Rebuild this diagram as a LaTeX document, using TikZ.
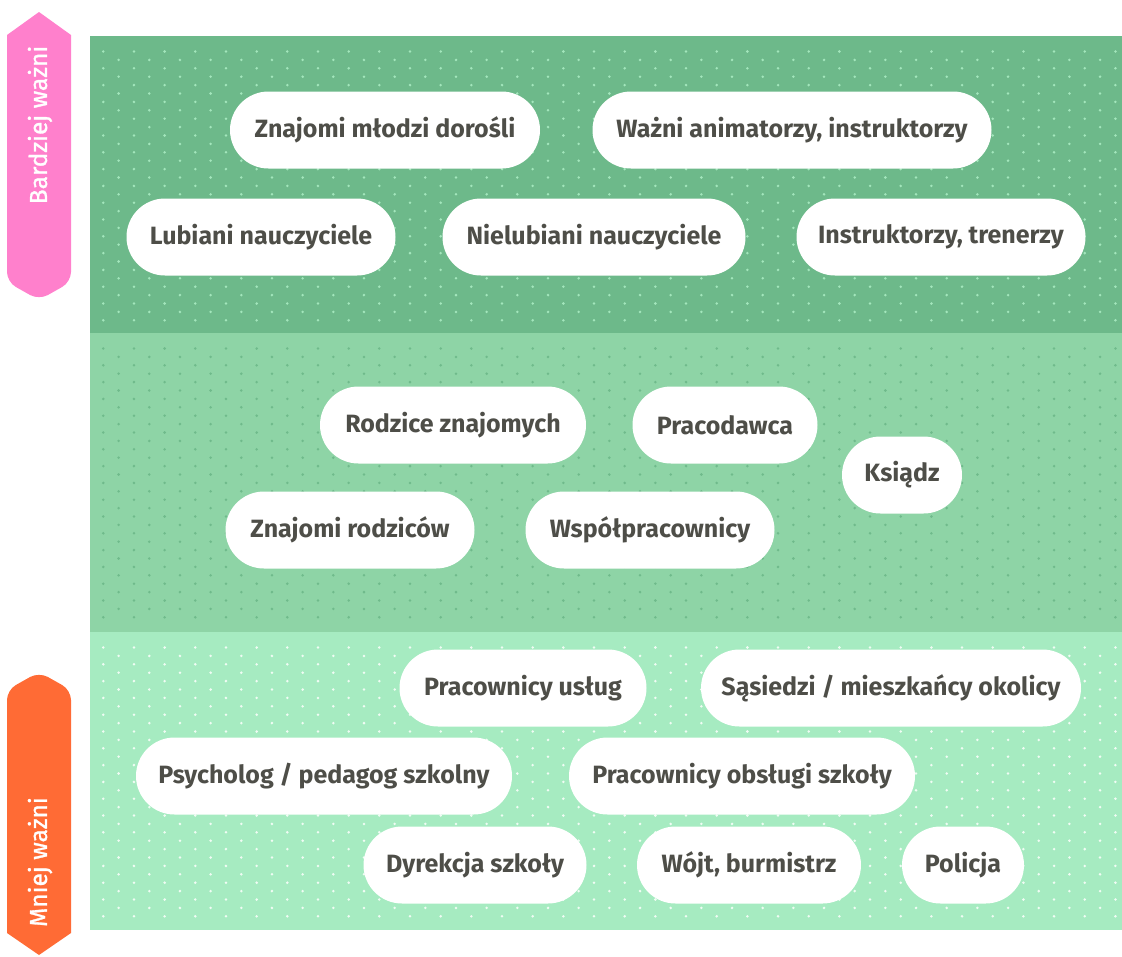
\documentclass[tikz,border=0pt]{standalone}
\usepackage{fontspec}
\setmainfont{Fira Sans}
\newfontfamily\sidefont[FakeBold=1.2]{Fira Sans}
\definecolor{topband}{HTML}{6DB98A}
\definecolor{topdot}{HTML}{A3E6BC}
\definecolor{midband}{HTML}{8ED4A6}
\definecolor{middot}{HTML}{6FBA8B}
\definecolor{lowband}{HTML}{A6EBC1}
\definecolor{lowdot}{HTML}{F0FCF4}
\definecolor{pinklab}{HTML}{FF80CC}
\definecolor{orangelab}{HTML}{FF6B35}
\definecolor{pilltext}{HTML}{4E4E48}
\tikzstyle{pill}=[fill=white, rounded corners=38.5pt, minimum height=77pt, inner xsep=4pt, text=pilltext, font=\fontsize{25}{30}\selectfont\bfseries]
\tikzstyle{side}=[text=white, rotate=90, font=\sidefont\fontsize{24.5}{28}\selectfont]
\begin{document}
\begin{tikzpicture}[x=1pt,y=-1pt]
\useasboundingbox (0,0) rectangle (1122,956);
\foreach \ytop/\ybot/\bandc/\dotc in {36/333/topband/topdot, 333/632/midband/middot, 632/930/lowband/lowdot}{
  \fill[\bandc] (90,\ytop) rectangle (1122,\ybot);
  \fill[\dotc] \foreach \i in {0,...,32}{ \foreach \j in {0,...,33}{
    ({103.3+15.33*mod(\i,2)+30.67*\j}, {\ytop+15.5+8.4*\i}) circle (1.4pt) } };
}
\fill[pinklab] (39,12) -- (71,35) [rounded corners=10pt] -- (71,282) -- (39,300) -- (7,282) [sharp corners] -- (7,35) -- cycle;
\fill[orangelab] (39,955) -- (7,933) [rounded corners=10pt] -- (7,690) -- (39,672) -- (71,690) [sharp corners] -- (71,933) -- cycle;
\node (bardziej) [side] at (40,125) {Bardziej ważni};
\node (mniej) [side] at (40,862) {Mniej ważni};
\node (mlodzi) [pill, minimum width=310pt] at (385,130) {Znajomi młodzi dorośli};
\node (animatorzy) [pill, minimum width=399pt] at (792,130) {Ważni animatorzy, instruktorzy};
\node (lubiani) [pill, minimum width=269pt] at (261,237) {Lubiani nauczyciele};
\node (nielubiani) [pill, minimum width=303pt] at (594,237) {Nielubiani nauczyciele};
\node (trenerzy) [pill, minimum width=289pt] at (941,237) {Instruktorzy, trenerzy};
\node (rodzice) [pill, minimum width=266pt] at (453,425) {Rodzice znajomych};
\node (pracodawca) [pill, minimum width=185pt] at (725,425) {Pracodawca};
\node (ksiadz) [pill, minimum width=120pt] at (902,475) {Ksiądz};
\node (rodzicow) [pill, minimum width=249pt] at (350,530) {Znajomi rodziców};
\node (wspolprac) [pill, minimum width=249pt] at (650,530) {Współpracownicy};
\node (uslug) [pill, minimum width=247pt] at (523,688) {Pracownicy usług};
\node (sasiedzi) [pill, minimum width=380pt] at (891,688) {Sąsiedzi / mieszkańcy okolicy};
\node (psycholog) [pill, minimum width=376pt] at (324,776) {Psycholog / pedagog szkolny};
\node (obslugi) [pill, minimum width=346pt] at (742,776) {Pracownicy obsługi szkoły};
\node (dyrekcja) [pill, minimum width=223pt] at (475,865) {Dyrekcja szkoły};
\node (wojt) [pill, minimum width=224pt] at (749,865) {Wójt, burmistrz};
\node (policja) [pill, minimum width=122pt] at (963,865) {Policja};
\end{tikzpicture}
\end{document}
